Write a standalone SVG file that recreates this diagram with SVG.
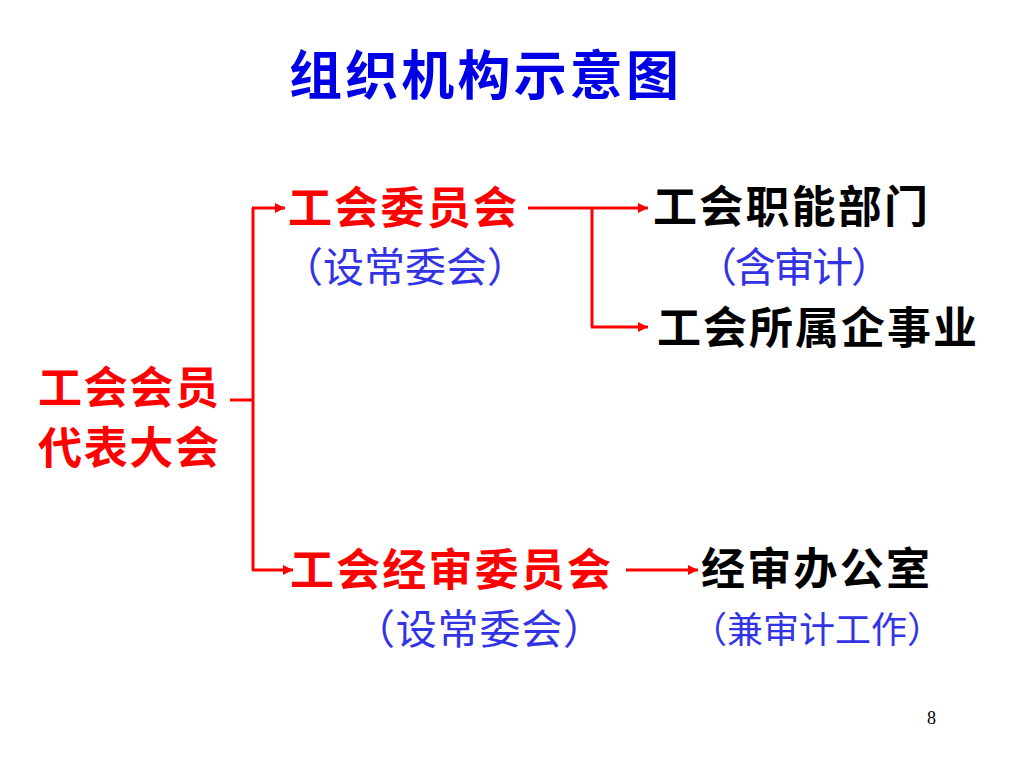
<svg xmlns="http://www.w3.org/2000/svg" width="1024" height="768" viewBox="0 0 1024 768">
<defs>
<marker id="ah" viewBox="0 0 10 10" refX="10" refY="5" markerWidth="12" markerHeight="10" markerUnits="userSpaceOnUse" orient="auto">
<path d="M0,0 L10,5 L0,10 z" fill="#FF0000"/>
</marker>
<style>
.t{font-family:"Noto Sans CJK SC","Noto Sans CJK JP",sans-serif;}
.red{fill:#FF0000;font-weight:bold;font-size:44px;}
.blk{fill:#000000;font-weight:bold;font-size:44px;}
.blue{fill:#3333E6;font-size:41px;}
.title{fill:#0000E6;font-weight:bold;font-size:53px;}
.c{fill:none;stroke:#FF0000;stroke-width:3;}
.a{marker-end:url(#ah);}
</style>
</defs>
<rect width="1024" height="768" fill="#FFFFFF"/>
<text class="t title" x="289" y="95" textLength="390" lengthAdjust="spacing">组织机构示意图</text>
<g id="connectors">
<path class="c" d="M230,400 H253"/>
<path class="c" d="M253,570 V208"/>
<path class="c a" d="M252,208 H285"/>
<path class="c a" d="M252,570 H293"/>
<path class="c a" d="M528,208 H648"/>
<path class="c" d="M592,208 V327"/>
<path class="c a" d="M591,327 H648"/>
<path class="c a" d="M626,570 H698"/>
</g>
<g id="node-congress">
<text class="t red" x="38" y="404" textLength="181" lengthAdjust="spacing">工会会员</text>
<text class="t red" x="38" y="464" textLength="181" lengthAdjust="spacing">代表大会</text>
</g>
<g id="node-committee">
<text class="t red" x="288" y="224" textLength="229" lengthAdjust="spacing">工会委员会</text>
<text class="t blue" x="282" y="282" textLength="246" lengthAdjust="spacing">（设常委会）</text>
</g>
<g id="node-functional">
<text class="t blk" x="653" y="223" textLength="275" lengthAdjust="spacing">工会职能部门</text>
<text class="t blue" x="696" y="282" textLength="196" lengthAdjust="spacing">（含审计）</text>
</g>
<g id="node-enterprise">
<text class="t blk" x="657" y="344" textLength="320" lengthAdjust="spacing">工会所属企事业</text>
</g>
<g id="node-audit-committee">
<text class="t red" x="290" y="586" textLength="321" lengthAdjust="spacing">工会经审委员会</text>
<text class="t blue" x="354" y="644" textLength="250" lengthAdjust="spacing">（设常委会）</text>
</g>
<g id="node-audit-office">
<text class="t blk" x="701" y="585" textLength="229" lengthAdjust="spacing">经审办公室</text>
<text class="t blue" x="691" y="643" font-size="36" textLength="252" lengthAdjust="spacing" style="font-size:36px">（兼审计工作）</text>
</g>
<text x="927" y="724" font-family="Liberation Serif, serif" font-size="18" fill="#000000">8</text>
</svg>
